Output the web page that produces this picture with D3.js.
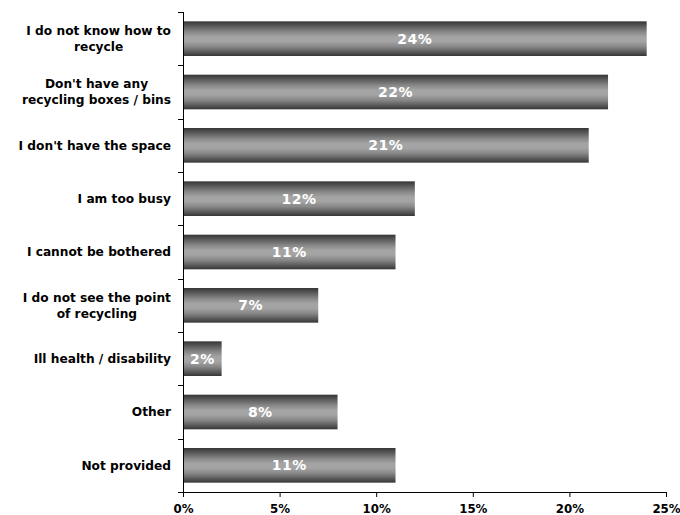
<!DOCTYPE html>
<html>
<head>
<meta charset="utf-8">
<script src="https://cdn.jsdelivr.net/npm/d3@7"></script>
<style>
  html, body { margin: 0; padding: 0; background: #fff; }
  svg { display: block; }
  text { font-family: "DejaVu Sans", Verdana, sans-serif; font-weight: bold; }
</style>
</head>
<body>
<svg id="chart" width="680" height="515"></svg>
<script>
// Reasons for not recycling (share of respondents, %)
const categories = [
  ["I do not know how to", "recycle"],
  ["Don't have any", "recycling boxes / bins"],
  ["I don't have the space"],
  ["I am too busy"],
  ["I cannot be bothered"],
  ["I do not see the point", "of recycling"],
  ["Ill health / disability"],
  ["Other"],
  ["Not provided"]
];
const values = [24, 22, 21, 12, 11, 7, 2, 8, 11];
const xTicks = [0, 5, 10, 15, 20, 25];

const svg = d3.select("#chart");
const plotLeft = 183, plotRight = 666, plotTop = 12, plotBottom = 492;

const keys = categories.map((c, i) => i);
const x = d3.scaleLinear().domain([0, 25]).range([plotLeft, plotRight]);
const y = d3.scaleBand().domain(keys).range([plotTop, plotBottom])
  .paddingInner(0.35).paddingOuter(0.175);

// Cylinder-style shading: dark edges, light centre
const grad = svg.append("defs").append("linearGradient")
  .attr("id", "barShade").attr("x1", 0).attr("y1", 0).attr("x2", 0).attr("y2", 1);
[[0, "#363636"], [0.12, "#555555"], [0.3, "#868686"], [0.45, "#a4a4a4"], [0.58, "#a4a4a4"],
 [0.74, "#868686"], [0.9, "#555555"], [1, "#363636"]]
  .forEach(([o, c]) => grad.append("stop").attr("offset", o).attr("stop-color", c));

// Bars
svg.append("g").selectAll("rect").data(values).join("rect")
  .attr("x", x(0))
  .attr("y", (d, i) => y(i))
  .attr("width", d => x(d) - x(0))
  .attr("height", y.bandwidth())
  .attr("fill", "url(#barShade)");

// Value labels inside bars
svg.append("g").selectAll("text").data(values).join("text")
  .attr("x", d => (x(0) + x(d)) / 2)
  .attr("y", (d, i) => y(i) + y.bandwidth() / 2)
  .attr("dy", "0.36em")
  .attr("text-anchor", "middle")
  .attr("fill", "#fff")
  .attr("font-size", 14)
  .attr("letter-spacing", 0.5)
  .text(d => d + "%");

// Category axis: line with ticks at band boundaries
const yAxis = svg.append("g").attr("stroke", "#000").attr("stroke-width", 1);
yAxis.append("line").attr("x1", plotLeft + 0.5).attr("x2", plotLeft + 0.5).attr("y1", plotTop).attr("y2", plotBottom);
const bounds = d3.range(categories.length + 1).map(i => plotTop + i * y.step());
yAxis.selectAll("line.tick").data(bounds).join("line").attr("class", "tick")
  .attr("x1", plotLeft - 5).attr("x2", plotLeft)
  .attr("y1", d => Math.round(d) + 0.5).attr("y2", d => Math.round(d) + 0.5);

// Category labels (multi-line, centred within a right-aligned block)
const labelRight = 171, lineH = 16, fs = 12.2;
const lab = svg.append("g").attr("font-size", fs).attr("fill", "#000");
categories.forEach((lines, i) => {
  const t = lab.append("text").attr("text-anchor", "middle");
  const cy = y(i) + y.bandwidth() / 2;
  lines.forEach((s, j) => {
    t.append("tspan").attr("x", 0)
      .attr("y", cy + (j - (lines.length - 1) / 2) * lineH).attr("dy", "0.36em").text(s);
  });
  const w = t.node().getBBox().width;
  t.selectAll("tspan").attr("x", labelRight - w / 2);
});

// Value axis
const xAxis = d3.axisBottom(x).tickValues(xTicks).tickFormat(d => d + "%").tickSize(5).tickSizeOuter(0);
const gx = svg.append("g").attr("transform", `translate(0,${plotBottom})`).call(xAxis);
gx.select(".domain").attr("stroke", "#000");
gx.selectAll(".tick line").attr("stroke", "#000");
gx.selectAll(".tick text").attr("font-size", 11.8).attr("fill", "#000")
  .attr("font-family", "\"DejaVu Sans\", Verdana, sans-serif").attr("font-weight", "bold")
  .attr("dy", "1.12em");
</script>
</body>
</html>
